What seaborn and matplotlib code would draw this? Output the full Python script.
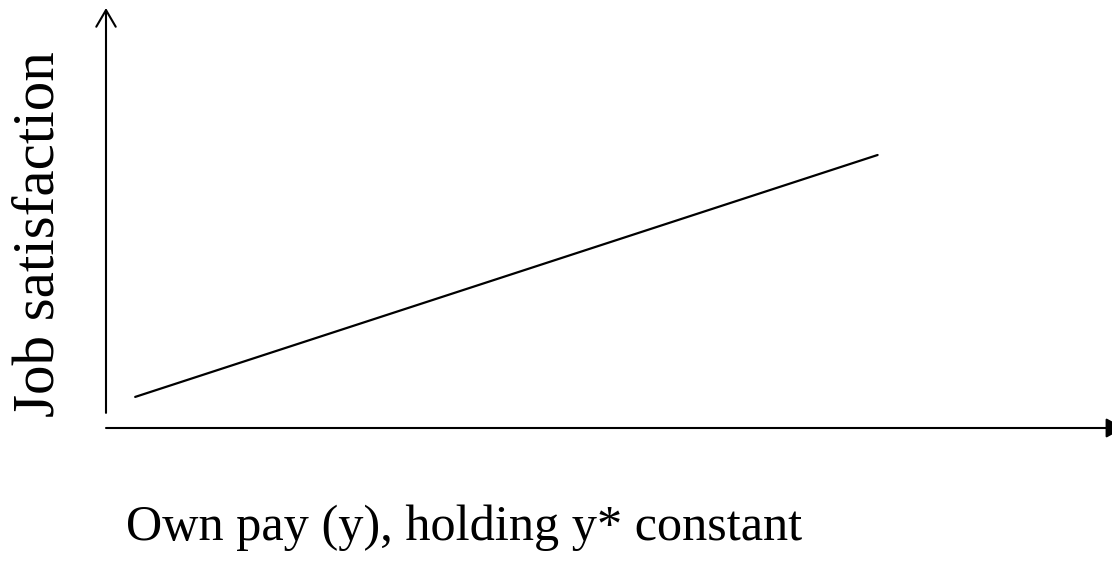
import matplotlib
matplotlib.use('Agg')
import matplotlib.pyplot as plt
import seaborn as sns
import pandas as pd

# Data (arbitrary units: pay on x, satisfaction on y)
pay = [0.29, 7.67]
satisfaction = [0.74, 6.5]

x_label = 'Own pay (y), holding y* constant'
y_label = 'Job satisfaction'

df = pd.DataFrame({'pay': pay, 'satisfaction': satisfaction})

sns.set_theme(style='white')
plt.rcParams['font.family'] = ['Liberation Serif', 'DejaVu Serif']
plt.rcParams['text.color'] = 'black'

W, H = 1112, 569
fig = plt.figure(figsize=(W / 100, H / 100), dpi=100)
ax = fig.add_axes([106 / W, (H - 428) / H, (W - 106) / W, (428 - 8) / H])
ax.set_xlim(0, 10)
ax.set_ylim(0, 10)
ax.axis('off')

sns.lineplot(data=df, x='pay', y='satisfaction', color='black', linewidth=1.6, ax=ax)

# hand-drawn style axes with arrows
ax.annotate('', xy=(0, 10), xytext=(0, 0.36), annotation_clip=False,
            arrowprops=dict(arrowstyle='->,head_length=0.6,head_width=0.35', mutation_scale=20,
                            color='black', lw=1.5, shrinkA=0, shrinkB=0))
ax.annotate('', xy=(10.12, 0), xytext=(0, 0), annotation_clip=False,
            arrowprops=dict(arrowstyle='-|>,head_length=0.55,head_width=0.3', mutation_scale=20,
                            color='black', lw=1.5, shrinkA=0, shrinkB=0))

fig.text(126 / W, 1 - 540 / H, x_label, fontsize=36.2, color='black', ha='left', va='baseline')
fig.text(54 / W, 1 - 234 / H, y_label, fontsize=42.5, color='black', rotation=90,
         rotation_mode='anchor', ha='center', va='baseline')

fig.savefig('out.png', dpi=100)
plt.close(fig)
